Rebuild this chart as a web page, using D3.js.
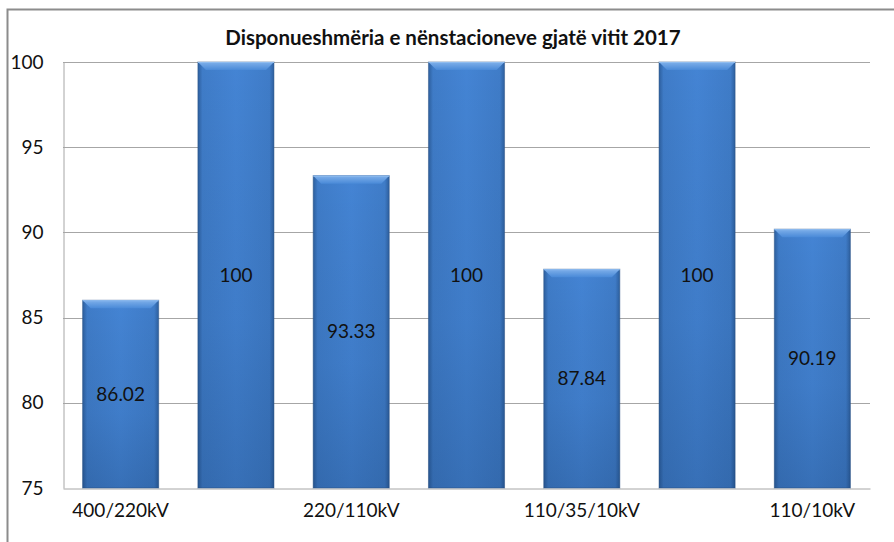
<!DOCTYPE html>
<html>
<head>
<meta charset="utf-8">
<script src="https://cdn.jsdelivr.net/npm/d3@7"></script>
<style>
  body { margin: 0; background: #fff; }
  text { font-family: Lato, "Open Sans", sans-serif; fill: #111; }
</style>
</head>
<body>
<svg width="894" height="542"></svg>
<script>
// Data
const categories = ["400/220kV", "400/110kV", "220/110kV", "220/35kV", "110/35/10kV", "110/20kV", "110/10kV"];
const shownLabels = ["400/220kV", "220/110kV", "110/35/10kV", "110/10kV"];
const values = [86.02, 100, 93.33, 100, 87.84, 100, 90.19];
const valueLabels = ["86.02", "100", "93.33", "100", "87.84", "100", "90.19"];
const yTicks = [75, 80, 85, 90, 95, 100];
const title = "Disponueshmëria e nënstacioneve gjatë vitit 2017";

const svg = d3.select("svg"),
    width = +svg.attr("width"),
    height = +svg.attr("height");

const margin = {top: 62, right: 24, bottom: 54, left: 63};

// outer chart border
svg.append("rect")
    .attr("x", 7.5).attr("y", 9.5)
    .attr("width", width).attr("height", height)
    .attr("fill", "none")
    .attr("stroke", "#8c8c8c")
    .attr("stroke-width", 2);

// gradients for the bevelled bars
const defs = svg.append("defs");
const gH = defs.append("linearGradient").attr("id", "barH").attr("x1", 0).attr("x2", 1).attr("y1", 0).attr("y2", 0);
gH.append("stop").attr("offset", "0%").attr("stop-color", "#2d5f9e");
gH.append("stop").attr("offset", "6%").attr("stop-color", "#3f7cc8");
gH.append("stop").attr("offset", "50%").attr("stop-color", "#4484d4");
gH.append("stop").attr("offset", "94%").attr("stop-color", "#3f7cc8");
gH.append("stop").attr("offset", "100%").attr("stop-color", "#2d5f9e");
const gV = defs.append("linearGradient").attr("id", "barV").attr("x1", 0).attr("x2", 0).attr("y1", 0).attr("y2", 1);
gV.append("stop").attr("offset", "0%").attr("stop-color", "#000").attr("stop-opacity", 0);
gV.append("stop").attr("offset", "60%").attr("stop-color", "#0a2850").attr("stop-opacity", 0.08);
gV.append("stop").attr("offset", "100%").attr("stop-color", "#0a2850").attr("stop-opacity", 0.22);
const gB = defs.append("linearGradient").attr("id", "bevel").attr("x1", 0).attr("x2", 0).attr("y1", 0).attr("y2", 1);
gB.append("stop").attr("offset", "0%").attr("stop-color", "#7fb0ea");
gB.append("stop").attr("offset", "100%").attr("stop-color", "#4a8ad8");

const x = d3.scaleBand()
    .domain(categories)
    .range([margin.left, width - margin.right])
    .paddingInner(0.34)
    .paddingOuter(0.17);

const y = d3.scaleLinear()
    .domain([75, 100])
    .range([height - margin.bottom, margin.top]);

// gridlines
svg.append("g")
    .selectAll("line")
    .data(yTicks.slice(1))
    .join("line")
        .attr("x1", margin.left).attr("x2", width - margin.right)
        .attr("y1", d => Math.round(y(d)) + 0.5).attr("y2", d => Math.round(y(d)) + 0.5)
        .attr("stroke", "#a6a6a6");

// y axis
const yAxis = svg.append("g")
    .attr("transform", `translate(${margin.left + 0.5},0)`)
    .call(d3.axisLeft(y).tickValues(yTicks).tickSize(0).tickPadding(20));
yAxis.select(".domain").attr("stroke", "#a6a6a6");
yAxis.selectAll("text").style("font-size", "19px").attr("fill", "#111");

// x axis
const xAxis = svg.append("g")
    .attr("transform", `translate(0,${Math.round(height - margin.bottom) + 0.5})`)
    .call(d3.axisBottom(x).tickValues(shownLabels).tickSize(0).tickPadding(15));
xAxis.select(".domain").attr("stroke", "#a6a6a6");
xAxis.selectAll("text").style("font-size", "19px").attr("fill", "#111");

// bars
const bars = svg.append("g")
    .selectAll("g")
    .data(values)
    .join("g");

bars.append("rect")
    .attr("x", (d, i) => x(categories[i]))
    .attr("y", d => y(d))
    .attr("width", x.bandwidth())
    .attr("height", d => y(75) - y(d))
    .attr("fill", "url(#barH)")
    .attr("stroke", "#2b5488")
    .attr("stroke-opacity", 0.5);

bars.append("rect")
    .attr("x", (d, i) => x(categories[i]))
    .attr("y", d => y(d))
    .attr("width", x.bandwidth())
    .attr("height", d => y(75) - y(d))
    .attr("fill", "url(#barV)");

// top bevel
bars.append("path")
    .attr("d", (d, i) => {
        const x0 = x(categories[i]), x1 = x0 + x.bandwidth(), t = y(d), b = 8;
        return `M${x0},${t}L${x1},${t}L${x1 - b},${t + b}L${x0 + b},${t + b}Z`;
    })
    .attr("fill", "url(#bevel)");

bars.append("line")
    .attr("x1", (d, i) => x(categories[i]))
    .attr("x2", (d, i) => x(categories[i]) + x.bandwidth())
    .attr("y1", d => y(d) + 0.5).attr("y2", d => y(d) + 0.5)
    .attr("stroke", "#8fbcef");

// value labels
bars.append("text")
    .attr("x", (d, i) => x(categories[i]) + x.bandwidth() / 2)
    .attr("y", d => (y(d) + y(75)) / 2)
    .attr("text-anchor", "middle")
    .attr("dy", "0.35em")
    .style("font-size", "19px")
    .text((d, i) => valueLabels[i]);

// title
svg.append("text")
    .attr("x", 453)
    .attr("y", 45)
    .attr("text-anchor", "middle")
    .style("font-size", "20.5px")
    .style("font-weight", "bold")
    .text(title);
</script>
</body>
</html>
